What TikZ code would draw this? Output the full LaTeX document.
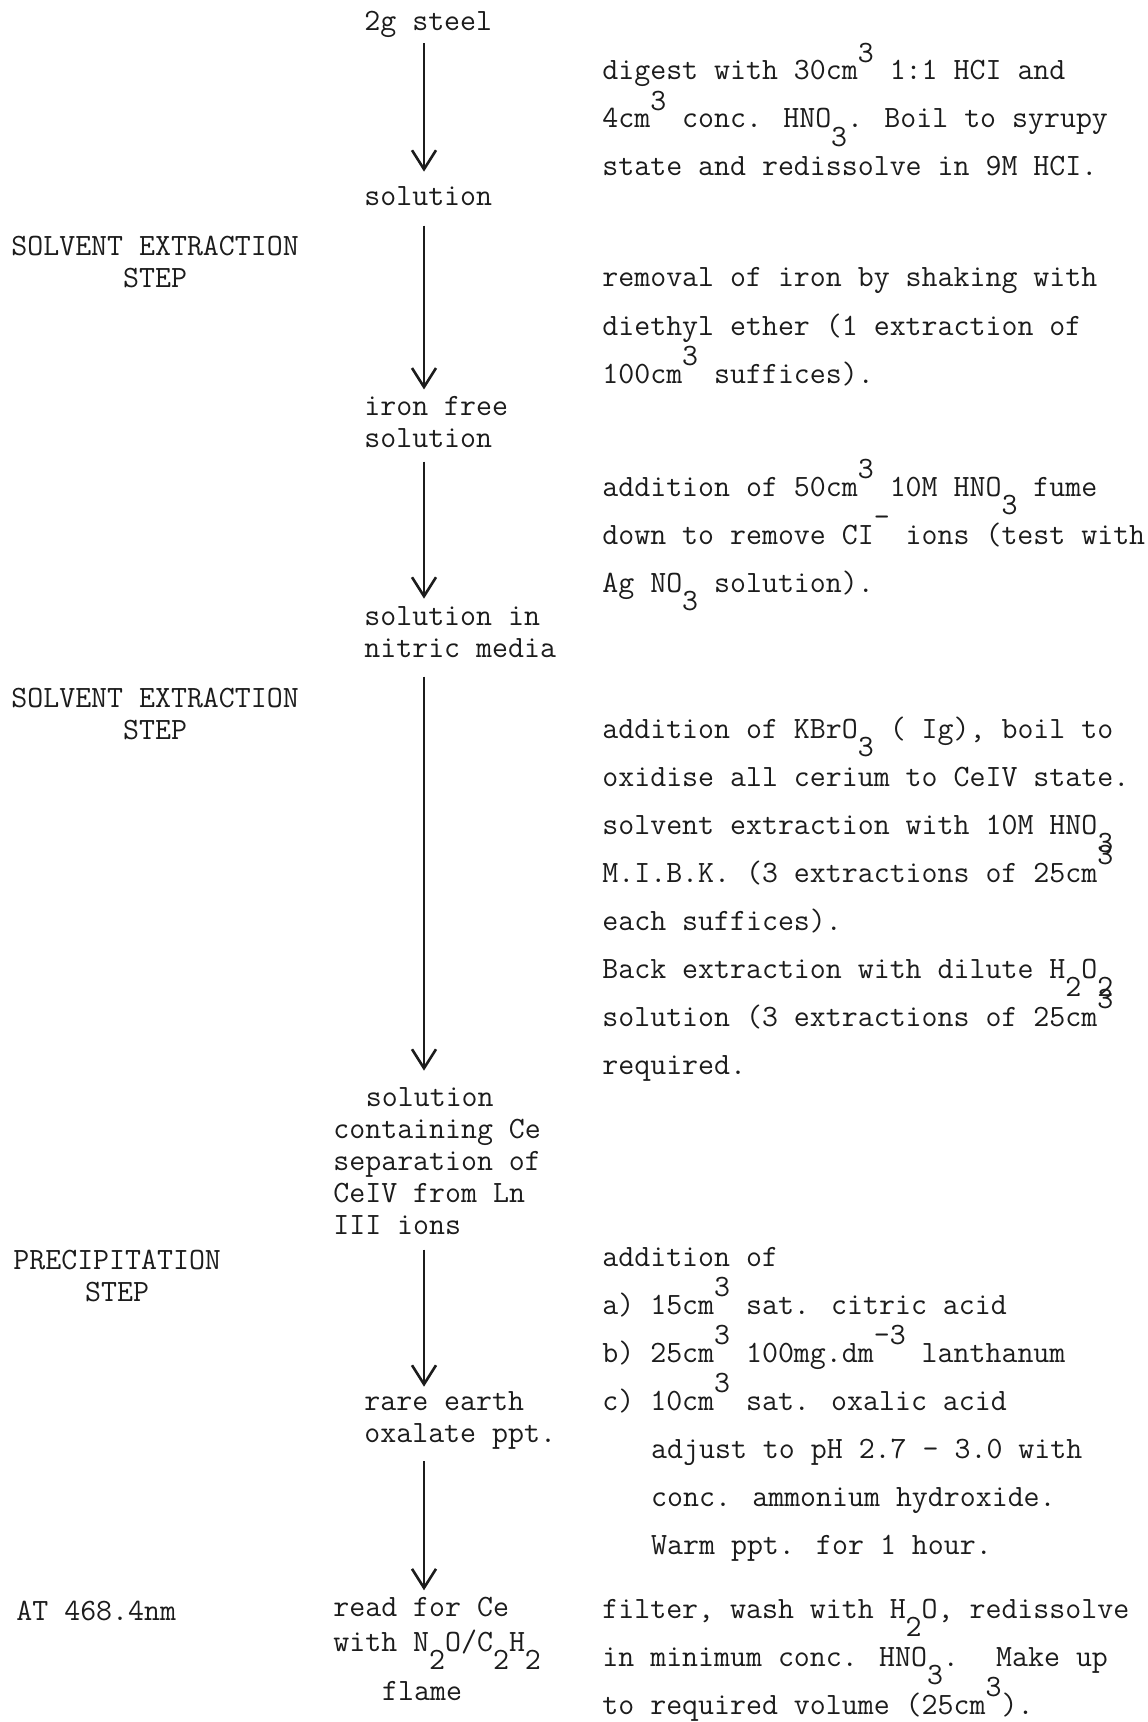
\documentclass[tikz,border=0pt]{standalone}
\usepackage{fontspec}
\usepackage{tikz}
\usetikzlibrary{arrows.meta}
\definecolor{inkColor}{HTML}{1C1C1C}
\newcommand{\up}[1]{\raisebox{0.55em}[0pt][0pt]{#1}}
\newcommand{\dn}[1]{\raisebox{-0.6em}[0pt][0pt]{#1}}
\newcommand{\ind}[1]{\hspace*{\dimexpr 0.525em*#1\relax}}

\begin{document}
\begin{tikzpicture}[x=0.5pt, y=-0.5pt,
    every node/.style={inner sep=0pt, text=inkColor},
    col/.style={anchor=base west, align=left, font=\fontsize{15.5}{16}\selectfont\ttfamily},
    stage/.style={anchor=base west, align=center, font=\fontsize{15.5}{16}\selectfont\ttfamily},
    note/.style={anchor=base west, align=left, font=\fontsize{15.5}{24}\selectfont\ttfamily},
    flow/.style={draw=inkColor, line width=1pt, -{Straight Barb[length=9.5pt, width=12pt, line width=1.3pt]}}]
    \useasboundingbox (0,0) rectangle (1147,1722);
    \coordinate (spine) at (424,0);

    % middle column (placed by the baseline of the last line)
    \node[col] (steel) at (364,31) {2g steel};
    \node[col] (sol) at (364,206) {solution};
    \node[col] (ironfree) at (364,447) {iron free\\solution};
    \node[col] (nitric) at (364,657) {solution in\\nitric media};
    \node[col] (cesol) at (333,1234) {\ind{2}solution\\containing Ce\\separation of\\CeIV from Ln\\III ions};
    \node[col] (oxalate) at (364,1442) {rare earth\\oxalate ppt.};
    \node[col] (readce) at (333,1700) {read for Ce\\[1.5pt]with N\dn{2}O/C\dn{2}H\dn{2}\\[8.5pt]\ind{3}flame};

    % left column
    \node[stage] (solvent1) at (11,288) {SOLVENT EXTRACTION\\STEP};
    \node[stage] (solvent2) at (11,739) {SOLVENT EXTRACTION\\STEP};
    \node[stage] (precip) at (13,1301) {PRECIPITATION\\STEP};
    \node[col] (wavelength) at (16,1620) {AT 468.4nm};

    % right column
    \node[note] (digest) at (602,176) {digest with 30cm\up{3} 1:1 HCI and\\4cm\up{3} conc. HNO\dn{3}. Boil to syrupy\\state and redissolve in 9M HCI.};
    \node[note] (ether) at (602,383) {removal of iron by shaking with\\diethyl ether (1 extraction of\\100cm\up{3} suffices).};
    \node[note] (fume) at (602,592) {addition of 50cm\up{3} 10M HNO\dn{3} fume\\down to remove CI\up{-} ions (test with\\Ag NO\dn{3} solution).};
    \node[note] (mibk) at (602,1074) {addition of KBrO\dn{3} (~Ig), boil to\\oxidise all cerium to CeIV state.\\solvent extraction with 10M HNO\dn{3}\\M.I.B.K. (3 extractions of 25cm\up{3}\\each suffices).\\Back extraction with dilute H\dn{2}O\dn{2}\\solution (3 extractions of 25cm\up{3}\\required.};
    \node[note] (oxalic) at (602,1554) {addition of\\a) 15cm\up{3} sat. citric acid\\b) 25cm\up{3} 100mg.dm\up{-3} lanthanum\\c) 10cm\up{3} sat. oxalic acid\\\ind{3}adjust to pH 2.7 - 3.0 with\\\ind{3}conc. ammonium hydroxide.\\\ind{3}Warm ppt. for 1 hour.};
    \node[note] (filter) at (602,1714) {filter, wash with H\dn{2}O, redissolve\\in minimum conc. HNO\dn{3}.~ Make up\\to required volume (25cm\up{3}).};

    % arrows
    \draw[flow, shorten <=2.5pt, shorten >=7.5pt] (steel.south -| spine) -- (sol.north -| spine);
    \draw[flow, shorten <=9.5pt, shorten >=3pt] (sol.south -| spine) -- (ironfree.north -| spine);
    \draw[flow, shorten <=7pt, shorten >=3.5pt] (ironfree.south -| spine) -- (nitric.north -| spine);
    \draw[flow, shorten <=9.5pt, shorten >=8pt] (nitric.south -| spine) -- (cesol.north -| spine);
    \draw[flow, shorten <=7.5pt, shorten >=2pt] (cesol.south -| spine) -- (oxalate.north -| spine);
    \draw[flow, shorten <=6pt, shorten >=3pt] (oxalate.south -| spine) -- (readce.north -| spine);
\end{tikzpicture}
\end{document}
